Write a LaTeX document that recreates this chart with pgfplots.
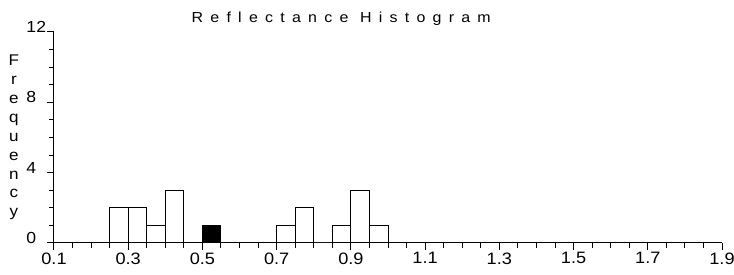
\documentclass[border=0pt]{standalone}
\usepackage{pgfplots}
\pgfplotsset{compat=1.18}
\usepackage{fontspec}
\setmainfont{Liberation Sans}[FakeStretch=1.1]
\newfontfamily\titlefont[LetterSpace=50,FakeStretch=1.1]{Liberation Sans}
\begin{document}
\begin{tikzpicture}
\begin{axis}[
  name=ax,
  scale only axis, width=668pt, height=211pt,
  xmin=0.1, xmax=1.9, ymin=0, ymax=12,
  axis lines*=left,
  axis line style={line width=1pt, black},
  tick align=outside,
  xtick={0.1,0.3,0.5,0.7,0.9,1.1,1.3,1.5,1.7,1.9},
  minor x tick num=3,
  ytick={0,4,8,12}, minor y tick num=3,
  major tick length=7pt, minor tick length=5pt,
  tick style={black, line width=1pt},
  /pgf/number format/assume math mode=true,
  xticklabel style={/pgf/number format/fixed, /pgf/number format/fixed zerofill, /pgf/number format/precision=1, font=\fontsize{16.5pt}{19pt}\selectfont, yshift=1pt},
  yticklabel={\makebox[17pt][l]{\pgfmathprintnumber{\tick}}},
  yticklabel style={font=\fontsize{16pt}{19pt}\selectfont, yshift=5pt},
  title={\titlefont Reflectance Histogram},
  title style={at={(axis description cs:0.43,1)}, anchor=base, yshift=3pt, font=\fontsize{14.5pt}{17pt}\selectfont},
  ylabel={F\\r\\e\\q\\u\\e\\n\\c\\y},
  every axis y label/.style={at={(axis description cs:-0.06,0.5)}, anchor=center, align=center, font=\fontsize{15.5pt}{18.9pt}\selectfont},
  clip=false,
]
\addplot[ybar interval, fill=white, draw=black, line width=1pt] table {
x y
0.25 2
0.30 2
0.35 1
0.40 3
0.45 0
};
\addplot[ybar interval, fill=black, draw=black, line width=1pt] table {
x y
0.50 1
0.55 0
};
\addplot[ybar interval, fill=white, draw=black, line width=1pt] table {
x y
0.70 1
0.75 2
0.80 0
0.85 1
0.90 3
0.95 1
1.00 0
};
\end{axis}
\pgfresetboundingbox
\useasboundingbox (ax.south west) ++(-54pt,-32pt) rectangle ++(734pt,275pt);
\end{tikzpicture}
\end{document}
